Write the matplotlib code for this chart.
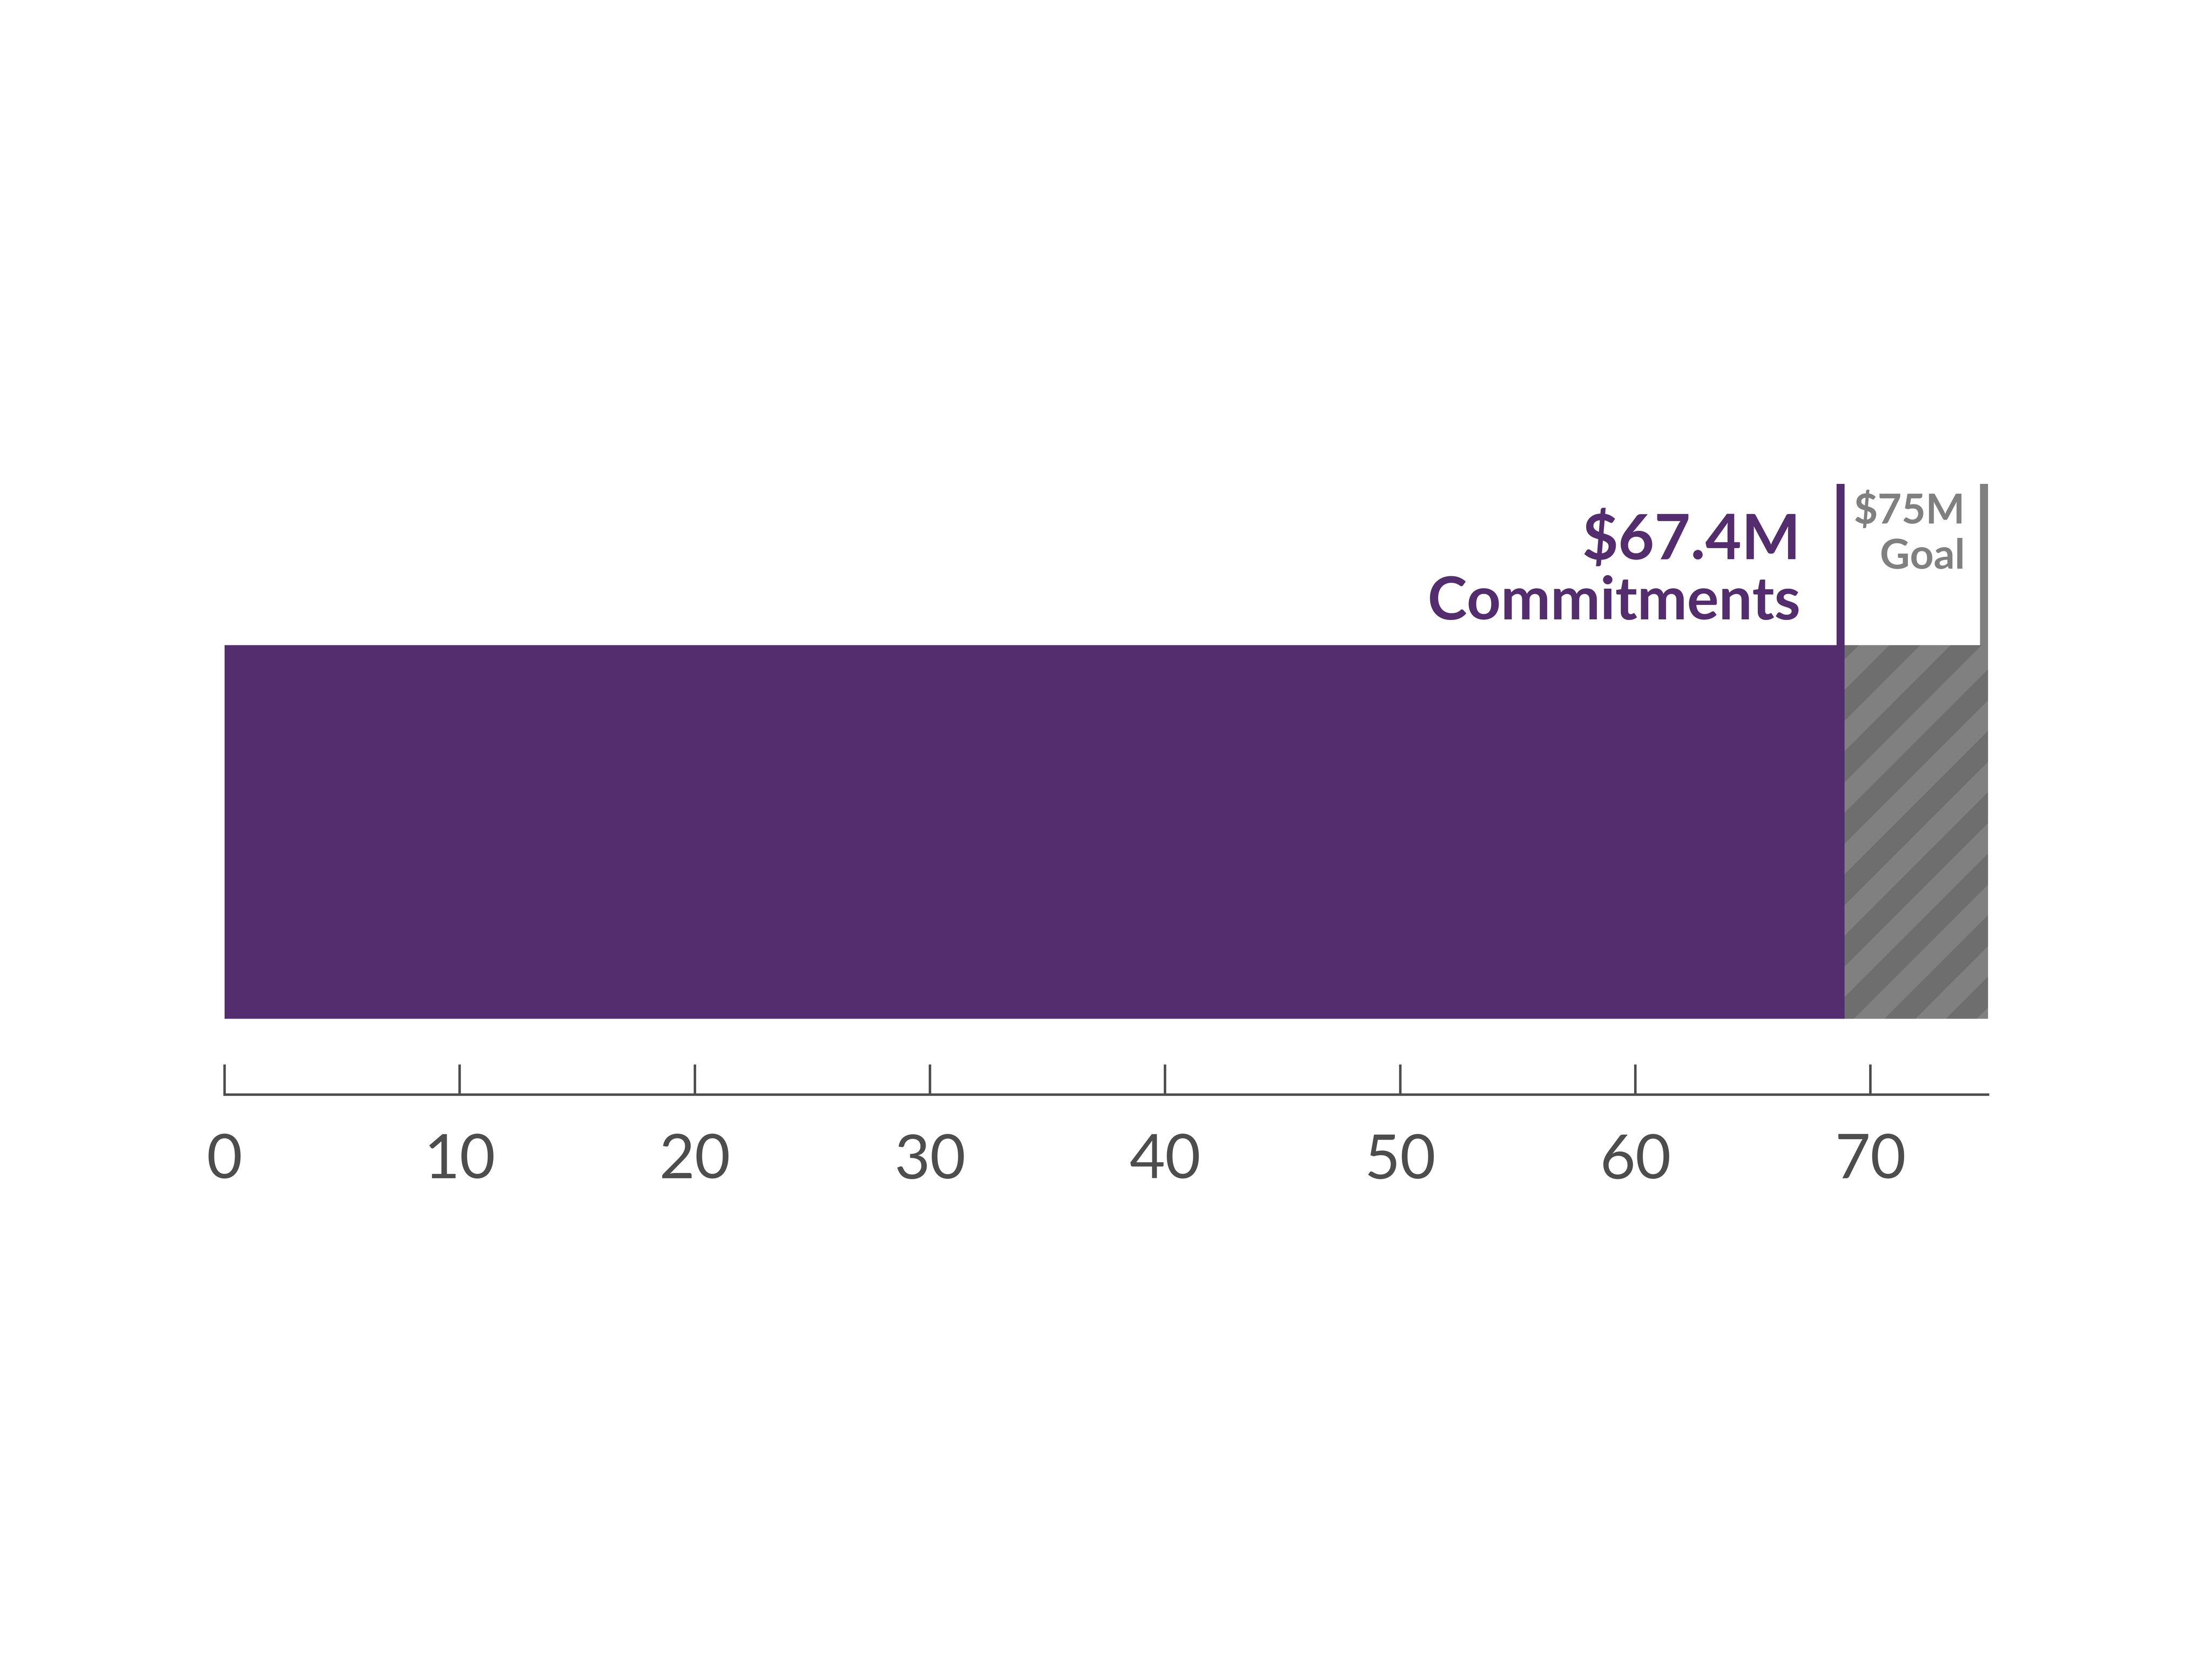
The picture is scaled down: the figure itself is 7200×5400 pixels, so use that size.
import matplotlib
matplotlib.use("Agg")
import matplotlib.pyplot as plt
from matplotlib import transforms

# ---- data ----
commitments_value = 68.9        # bar end as drawn in the reference
goal_value = 75.0
commit_label = ["$67.4M", "Commitments"]
goal_label = ["$75M", "Goal"]
xticks = [0, 10, 20, 30, 40, 50, 60, 70]

PURPLE = "#532d6d"
GRAY_LINE = "#808080"
STRIPE_LIGHT = "#808080"
STRIPE_DARK = "#6e6e6e"
AXIS_COL = "#4d4d4d"

plt.rcParams["font.family"] = ["Lato", "DejaVu Sans"]
plt.rcParams["hatch.linewidth"] = 4.2

DPI = 1200
fig = plt.figure(figsize=(6, 4.5), dpi=DPI)
fig.patch.set_facecolor("white")
W, H = 7200, 5400
ax = fig.add_axes([731 / W, 1837 / H, (6471 - 731) / W, (3563 - 1575) / H])
ax.set_xlim(0, goal_value)
ax.set_ylim(0, 1)

bar_bottom, bar_top = 0.1242, 0.736
bar_h = bar_top - bar_bottom
bar_y = (bar_top + bar_bottom) / 2

ax.barh([bar_y], [commitments_value], height=bar_h, left=0, color=PURPLE,
        linewidth=0, zorder=2)
ax.barh([bar_y], [goal_value - commitments_value], height=bar_h,
        left=commitments_value, facecolor=STRIPE_DARK, edgecolor=STRIPE_LIGHT,
        hatch="//", linewidth=0, zorder=2)

# marker lines above the bar (right edge aligned with the value)
lw = 1.56
shift = transforms.offset_copy(ax.transData, fig=fig, x=-lw / 2, y=0, units="points")
ax.plot([commitments_value, commitments_value], [bar_top - 0.01, 1.0], color=PURPLE,
        lw=lw, solid_capstyle="butt", transform=shift, zorder=3)
ax.plot([goal_value, goal_value], [bar_top - 0.01, 1.0], color=GRAY_LINE,
        lw=lw, solid_capstyle="butt", transform=shift, zorder=1)

# labels
ax.annotate(commit_label[0], xy=(commitments_value, 0.8768), xytext=(-8.6, 0),
            textcoords="offset points", ha="right", va="baseline",
            fontsize=12.2, fontweight="bold", color=PURPLE)
ax.annotate(commit_label[1], xy=(commitments_value, 0.778), xytext=(-8.6, 0),
            textcoords="offset points", ha="right", va="baseline",
            fontsize=11.6, fontweight="bold", color=PURPLE)
ax.annotate(goal_label[0], xy=(goal_value, 0.935), xytext=(-4.5, 0),
            textcoords="offset points", ha="right", va="baseline",
            fontsize=8.1, fontweight="bold", color=GRAY_LINE)
ax.annotate(goal_label[1], xy=(goal_value, 0.861), xytext=(-4.5, 0),
            textcoords="offset points", ha="right", va="baseline",
            fontsize=8.1, fontweight="bold", color=GRAY_LINE)

# axis styling
for s in ["left", "top", "right"]:
    ax.spines[s].set_visible(False)
ax.spines["bottom"].set_color(AXIS_COL)
ax.spines["bottom"].set_linewidth(0.48)
ax.set_yticks([])
ax.set_xticks(xticks)
ax.set_xticklabels([str(t) for t in xticks])
ax.tick_params(axis="x", direction="in", length=5.9, width=0.48, color=AXIS_COL,
               pad=7.5, labelsize=12, labelcolor=AXIS_COL)
for lab in ax.get_xticklabels():
    lab.set_fontweight("normal")
ax.set_facecolor("none")

fig.savefig("out.png", dpi=DPI, facecolor="white")
